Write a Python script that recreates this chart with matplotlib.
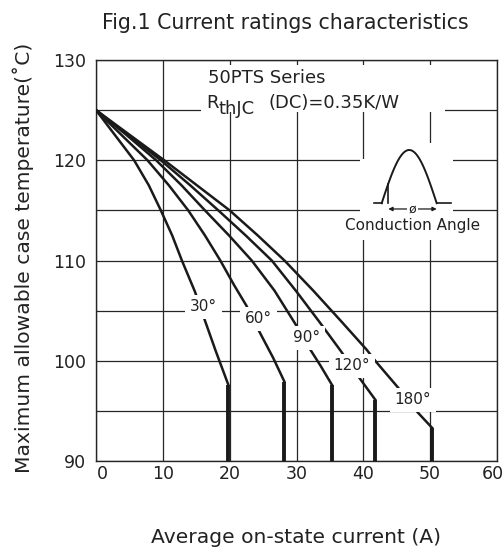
import numpy as np
import matplotlib
matplotlib.use("Agg")
import matplotlib.pyplot as plt
import matplotlib.transforms as mtransforms
from matplotlib.patches import Rectangle

plt.rcParams["font.family"] = ["DejaVu Sans"]

# ---------------------------------------------------------------------------
# Data (average on-state current A, case temp degC)
# ---------------------------------------------------------------------------
ANGLE_LABELS = ["30°", "60°", "90°", "120°", "180°"]

I_30 = [0, 2.85, 5.7, 7.9, 9.7, 11.4, 12.85, 14.8, 16.2, 17.9, 19.8]
T_30 = [125, 122.5, 120, 117.5, 115, 112.5, 110, 106.9, 104.2, 101.0, 97.6]
I_60 = [0, 3.85, 7.7, 10.9, 13.8, 16.3, 18.6, 20.7, 22.5, 24.6, 26.5, 28.2]
T_60 = [125, 122.5, 120, 117.5, 115, 112.5, 110, 107.5, 105.5, 102.7, 100.3, 97.9]
I_90 = [0, 4.6, 9.0, 12.8, 16.3, 19.9, 23.3, 26.7, 29.8, 31.6, 33.6, 35.3]
T_90 = [125, 122.5, 120, 117.5, 115, 112.5, 110, 107.0, 103.7, 101.6, 99.5, 97.6]
I_120 = [0, 4.85, 9.7, 14.1, 18.3, 22.4, 26.3, 30.0, 33.4, 36.6, 39.4, 41.8]
T_120 = [125, 122.5, 120, 117.5, 115, 112.5, 110, 106.9, 103.9, 101.0, 98.3, 96.1]
I_180 = [0, 5.1, 10.2, 15.1, 20.0, 24.2, 28.2, 32.5, 36.6, 40.5, 41.9, 45.1, 48.2, 50.3]
T_180 = [125, 122.5, 120, 117.5, 115, 112.5, 110, 107.0, 104.0, 101.1, 99.9, 97.4, 94.8, 93.3]

CURVES_I = [I_30, I_60, I_90, I_120, I_180]
CURVES_T = [T_30, T_60, T_90, T_120, T_180]

# label positions on the curves
LABEL_I = [16.1, 24.3, 31.5, 38.3, 47.4]
LABEL_T = [105.4, 104.2, 102.3, 99.5, 96.1]

X_TICKS = [0, 10, 20, 30, 40, 50, 60]
Y_TICKS = [90, 100, 110, 120, 130]
Y_MINOR = [95, 105, 115, 125]

INK = "#1a1a1a"
TXT = "#222222"

# ---------------------------------------------------------------------------
# Figure
# ---------------------------------------------------------------------------
W, H = 504, 552
fig = plt.figure(figsize=(W / 100, H / 100), dpi=100)
ax = fig.add_axes([96 / W, (H - 461) / H, 401 / W, 401 / H])

ax.set_xlim(0, 60)
ax.set_ylim(90, 130)
ax.set_xticks(X_TICKS)
ax.set_yticks(Y_TICKS)
ax.set_yticks(Y_MINOR, minor=True)
ax.tick_params(which="both", length=0, labelsize=12.5, labelcolor=TXT)
ax.tick_params(axis="x", pad=3)
ax.tick_params(axis="y", pad=7)
ax.set_axisbelow(True)
ax.grid(True, which="both", color="#262626", linewidth=0.9)
for sp in ax.spines.values():
    sp.set_color("#262626")
    sp.set_linewidth(1.0)

# nudge the end tick labels like the reference
xlabels = ax.get_xticklabels()
xlabels[0].set_transform(xlabels[0].get_transform() +
                         mtransforms.ScaledTranslation(6 / 100, 0, fig.dpi_scale_trans))
xlabels[-1].set_transform(xlabels[-1].get_transform() +
                          mtransforms.ScaledTranslation(-4 / 100, 0, fig.dpi_scale_trans))

# white masks where the header text and the inset sketch sit on the grid
ax.add_patch(Rectangle((15.7, 124.85), 36.5, 4.65, facecolor="white",
                       edgecolor="none", zorder=1))
ax.add_patch(Rectangle((39.5, 112.0), 13.9, 8.1, facecolor="white",
                       edgecolor="none", zorder=1))
ax.add_patch(Rectangle((40.25, 120.0), 13.15, 1.7, facecolor="white",
                       edgecolor="none", zorder=1))

for xs, ys in zip(CURVES_I, CURVES_T):
    ax.plot(xs, ys, color=INK, linewidth=1.8, zorder=3,
            solid_joinstyle="round")
    ax.plot([xs[-1], xs[-1]], [ys[-1], 90], color=INK,
            linewidth=2.8, zorder=3, solid_capstyle="butt")

for lab, lx, ly in zip(ANGLE_LABELS, LABEL_I, LABEL_T):
    ax.text(lx, ly, lab, fontsize=11, ha="center", va="center", zorder=4,
            color=TXT,
            bbox=dict(boxstyle="square,pad=0.3", facecolor="white",
                      edgecolor="none"))

# header
ax.text(16.8, 127.67, "50PTS Series", fontsize=13, ha="left",
        va="baseline", zorder=4, color=TXT)
ax.text(16.56, 125.18, "R", fontsize=13, ha="left", va="baseline",
        zorder=4, color=TXT)
ax.text(18.4, 124.66, "thJC", fontsize=13, ha="left", va="baseline",
        zorder=4, color=TXT)
ax.text(25.8, 125.18, "(DC)=0.35K/W", fontsize=13, ha="left",
        va="baseline", zorder=4, color=TXT)

# conduction angle sketch
ins = ax.inset_axes([(370 - 96) / 401, (461 - 215) / 401, 85 / 401, 70 / 401])
ins.set_xlim(-0.668, 4.187)
ins.set_ylim(-0.221, 1.094)
ins.axis("off")
alpha = 0.377
th = np.linspace(0, np.pi, 80)
ins.plot(th, np.sin(th), color=INK, lw=1.4)
ins.plot([-0.44, 0], [0, 0], color=INK, lw=1.2)
ins.plot([np.pi, np.pi + 0.8], [0, 0], color=INK, lw=1.2)
ins.plot([alpha, alpha], [0, np.sin(alpha)], color=INK, lw=1.2)
ins.annotate("", xy=(alpha, -0.108), xytext=(np.pi, -0.108),
             arrowprops=dict(arrowstyle="<|-|>", color=INK, lw=0.9,
                             mutation_scale=6, shrinkA=0, shrinkB=0))
ins.text((alpha + np.pi) / 2, -0.108, "ø", fontsize=9, ha="center",
         va="center", color=INK,
         bbox=dict(boxstyle="square,pad=0.1", facecolor="white",
                   edgecolor="none"))
ax.text(47.4, 113.5, "Conduction Angle", fontsize=11, ha="center",
        va="center", zorder=4, color=TXT)

# titles / labels
fig.text(285 / W, 1 - 23 / H, "Fig.1 Current ratings characteristics",
         fontsize=14.8, ha="center", va="center", color=TXT)
fig.text(296 / W, 1 - 537.5 / H, "Average on-state current (A)",
         fontsize=14.6, ha="center", va="center", color=TXT)
fig.text(23 / W, 1 - 258 / H, "Maximum allowable case temperature(˚C)",
         fontsize=14.6, ha="center", va="center", rotation=90, color=TXT)

fig.savefig("out.png", dpi=100)
